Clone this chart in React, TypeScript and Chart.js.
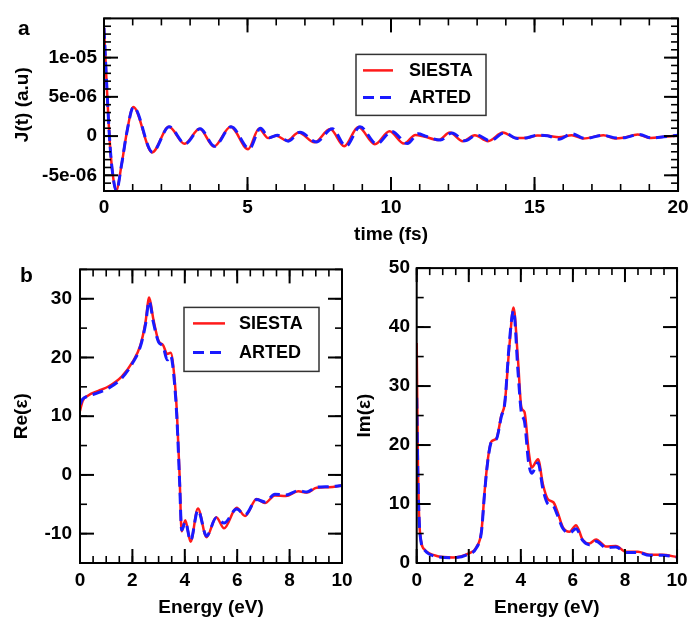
import React, { useEffect, useRef } from 'react';
import { Chart, registerables } from 'chart.js';
Chart.register(...registerables);

const FONT = "'Liberation Sans', Arial, Helvetica, sans-serif";
const RED = '#ff1a1a';
const BLUE = '#1a1aff';

// ---- Panel a: J(t) ----
const timeSiesta = [0, 0.09, 0.21, 0.32, 0.42, 0.61, 0.79, 1.02, 1.68, 2.26, 2.81, 3.33, 3.83, 4.41, 5.02, 5.40, 5.72, 6.0, 6.38, 6.78, 7.33, 7.88, 8.37, 8.86, 9.44, 9.95, 10.45, 10.85, 11.15, 11.65, 12.05, 12.5, 12.92, 13.38, 13.9, 14.35, 14.7, 15.1, 15.45, 15.85, 16.3, 16.7, 17.4, 17.8, 18.1, 18.6, 19.05, 19.5, 20];
const jSiesta = [13.8, 6.9, -1.2, -5.3, -7.0, -3.7, 0.37, 3.7, -2.08, 1.18, -0.98, 0.94, -1.34, 1.18, -1.67, 0.95, -0.25, 0.05, -0.6, 0.45, -0.8, 0.9, -1.3, 1.15, -1.05, 0.6, -0.95, 0.15, -0.05, -0.5, 0.45, -0.65, 0.1, -0.65, 0.45, -0.25, -0.25, 0.08, 0.05, -0.15, 0.12, -0.3, 0.1, -0.3, -0.2, 0.2, -0.25, -0.1, 0.05];
const timeArted = [0, 0.09, 0.21, 0.32, 0.43, 0.61, 0.79, 1.03, 1.69, 2.27, 2.83, 3.35, 3.85, 4.43, 5.06, 5.45, 5.76, 6.05, 6.42, 6.83, 7.4, 7.95, 8.43, 8.92, 9.5, 10.03, 10.57, 10.95, 11.2, 11.72, 12.12, 12.58, 12.98, 13.45, 13.95, 14.4, 14.75, 15.1, 15.45, 15.85, 16.3, 16.75, 17.4, 17.85, 18.15, 18.65, 19.1, 19.5, 20];
const jArted = [13.8, 6.9, -1.2, -5.3, -7.0, -3.7, 0.37, 3.7, -2.05, 1.2, -0.98, 0.95, -1.3, 1.2, -1.6, 1.0, -0.2, 0.1, -0.65, 0.5, -0.75, 0.95, -1.3, 1.2, -1.0, 0.6, -0.95, 0.3, 0.0, -0.5, 0.4, -0.6, 0.15, -0.6, 0.4, -0.3, -0.2, 0.1, 0.05, -0.4, 0.3, -0.3, 0.1, -0.25, -0.2, 0.2, -0.25, -0.1, 0.1];
const J_UNIT = 1e-6;
const timeTicks = [0, 5, 10, 15, 20];
const jTicks = [-5e-6, 0, 5e-6, 1e-5];
const jTickLabels = ['-5e-06', '0', '5e-06', '1e-05'];

// ---- Panel b: Re(eps) ----
const reEnergy = [0, 0.1, 0.3, 0.7, 1.1, 1.6, 2.0, 2.3, 2.5, 2.64, 2.8, 3.0, 3.17, 3.33, 3.46, 3.6, 3.7, 3.8, 3.88, 4.02, 4.22, 4.5, 4.83, 5.2, 5.5, 5.98, 6.3, 6.74, 7.06, 7.44, 7.86, 8.33, 8.66, 9.03, 9.5, 10];
const reSiesta = [10.9, 12.6, 13.5, 14.3, 15.1, 16.8, 19.2, 22.0, 26.0, 30.2, 26.5, 22.8, 22.1, 20.6, 20.8, 16.8, 10.5, 0.0, -9.6, -7.7, -11.4, -5.7, -10.6, -7.2, -9.1, -5.6, -7.0, -4.1, -4.8, -3.5, -3.6, -2.8, -3.0, -2.2, -2.1, -1.8];
const reArted = [12.0, 12.9, 13.4, 14.0, 14.8, 16.5, 19.0, 21.8, 25.6, 29.6, 26.0, 22.6, 21.9, 19.6, 20.3, 16.0, 9.5, -1.0, -9.4, -8.0, -11.2, -6.0, -10.4, -7.3, -8.2, -5.8, -6.8, -4.2, -4.6, -3.3, -3.4, -2.7, -2.9, -2.1, -2.0, -1.8];
const reTicks = [-10, 0, 10, 20, 30];

// ---- Panel b: Im(eps) ----
const imEnergy = [0, 0.05, 0.13, 0.32, 0.77, 1.4, 1.98, 2.3, 2.49, 2.61, 2.74, 2.87, 3.06, 3.25, 3.38, 3.57, 3.72, 3.89, 4.02, 4.14, 4.3, 4.42, 4.66, 4.85, 5.04, 5.25, 5.4, 5.61, 5.87, 6.12, 6.38, 6.63, 6.89, 7.27, 7.65, 8.04, 8.5, 8.93, 9.43, 10];
const imSiesta = [37.3, 16.0, 5.0, 2.2, 1.2, 0.95, 1.6, 2.7, 5.5, 12.2, 17.8, 20.6, 21.1, 25.0, 27.0, 37.3, 43.3, 34.5, 26.4, 25.6, 19.0, 16.2, 17.6, 13.3, 10.8, 10.3, 8.8, 6.1, 5.3, 6.4, 3.9, 3.3, 4.0, 2.8, 2.9, 1.9, 1.9, 1.4, 1.4, 1.0];
const imArted = [28.0, 14.0, 4.8, 2.1, 1.1, 0.9, 1.5, 2.6, 5.4, 12.0, 17.6, 20.5, 21.0, 24.8, 27.0, 38.0, 42.8, 32.5, 25.5, 24.0, 17.0, 15.2, 17.0, 12.5, 10.0, 9.6, 8.2, 5.9, 5.1, 5.8, 3.8, 3.1, 3.7, 2.6, 2.7, 1.8, 1.8, 1.3, 1.3, 1.0];
const imTicks = [0, 10, 20, 30, 40, 50];
const energyTicks = [0, 2, 4, 6, 8, 10];

const framePlugin = {
  id: 'frameTicks',
  afterDraw(chart: any, _args: any, opts: any) {
    const { ctx, chartArea: a, scales } = chart;
    const xs = scales.x, ys = scales.y;
    ctx.save();
    ctx.strokeStyle = '#000';
    const seg = (x1: number, y1: number, x2: number, y2: number) => {
      ctx.beginPath(); ctx.moveTo(x1, y1); ctx.lineTo(x2, y2); ctx.stroke();
    };
    const steps = (s: any, step: number) => {
      const out: number[] = [];
      const n = Math.round((s.max - s.min) / step);
      for (let i = 0; i <= n; i++) out.push(s.min + i * step);
      return out;
    };
    const drawX = (vals: number[], len: number) => vals.forEach((v) => {
      const p = xs.getPixelForValue(v);
      seg(p, a.bottom, p, a.bottom - len); seg(p, a.top, p, a.top + len);
    });
    const drawY = (vals: number[], len: number) => vals.forEach((v) => {
      const p = ys.getPixelForValue(v);
      seg(a.left, p, a.left + len, p); seg(a.right, p, a.right - len, p);
    });
    ctx.lineWidth = 1.6;
    drawX(steps(xs, opts.xMinor), 7);
    drawY(steps(ys, opts.yMinor), 7);
    ctx.lineWidth = 2;
    drawX(xs.ticks.map((t: any) => t.value), 14);
    drawY(ys.ticks.map((t: any) => t.value), 14);
    ctx.lineWidth = 2;
    ctx.strokeRect(a.left, a.top, a.right - a.left, a.bottom - a.top);

    if (opts.legend) {
      const L = opts.legend;
      const bx = a.left + L.x, by = a.top + L.y;
      ctx.fillStyle = '#fff';
      ctx.fillRect(bx, by, L.w, L.h);
      ctx.strokeStyle = '#333';
      ctx.lineWidth = 1.5;
      ctx.strokeRect(bx, by, L.w, L.h);
      chart.data.datasets.forEach((d: any, i: number) => {
        const ry = by + L.rows[i];
        ctx.strokeStyle = d.borderColor;
        ctx.lineWidth = d.borderWidth;
        ctx.setLineDash(d.borderDash || []);
        seg(bx + L.sx, ry, bx + L.sx + L.sl, ry);
        ctx.setLineDash([]);
        ctx.fillStyle = '#000';
        ctx.font = `bold 18px ${FONT}`;
        ctx.textAlign = 'left';
        ctx.textBaseline = 'middle';
        ctx.fillText(d.label, bx + L.tx, ry + 1);
      });
    }
    if (opts.panelLabel) {
      const P = opts.panelLabel;
      ctx.fillStyle = '#000';
      ctx.font = `bold 21px ${FONT}`;
      ctx.textAlign = 'left';
      ctx.textBaseline = 'alphabetic';
      ctx.fillText(P.text, P.x, P.y);
    }
    ctx.restore();
  },
};

type Series = { label: string; xs: number[]; ys: number[]; scale?: number; color: string; dash?: number[]; width: number; order: number };

function makeConfig(p: any) {
  const tickFont = { family: FONT, size: 19, weight: 'bold' as const };
  return {
    type: 'line',
    data: {
      datasets: p.series.map((s: Series) => ({
        label: s.label,
        data: s.xs.map((x, i) => ({ x, y: s.ys[i] * (s.scale ?? 1) })),
        borderColor: s.color,
        borderWidth: s.width,
        borderDash: s.dash,
        pointRadius: 0,
        fill: false,
        cubicInterpolationMode: 'monotone',
        order: s.order,
      })),
    },
    options: {
      responsive: false,
      animation: false,
      events: [],
      layout: { padding: p.padding },
      plugins: {
        legend: { display: false },
        tooltip: { enabled: false },
        frameTicks: { xMinor: p.xMinor, yMinor: p.yMinor, legend: p.legend, panelLabel: p.panelLabel },
      },
      scales: {
        x: {
          type: 'linear',
          min: p.xMin,
          max: p.xMax,
          grid: { display: false, drawTicks: false },
          border: { display: false },
          afterBuildTicks: (s: any) => { s.ticks = p.xTicks.map((v: number) => ({ value: v })); },
          afterFit: (s: any) => { s.height = p.xAxisHeight; },
          ticks: { padding: p.xTickPad, font: tickFont, color: '#000', autoSkip: false, maxRotation: 0, callback: (v: number) => String(v) },
          title: { display: true, text: p.xTitle, font: tickFont, color: '#000', padding: { top: 0, bottom: p.xTitlePad } },
        },
        y: {
          type: 'linear',
          min: p.yMin,
          max: p.yMax,
          grid: { display: false, drawTicks: false },
          border: { display: false },
          afterBuildTicks: (s: any) => { s.ticks = p.yTicks.map((v: number) => ({ value: v })); },
          afterFit: (s: any) => { s.width = p.yAxisWidth; },
          ticks: {
            padding: p.yTickPad, font: tickFont, color: '#000', autoSkip: false,
            callback: (v: number) => {
              const i = p.yTicks.indexOf(v);
              return p.yTickLabels && i >= 0 ? p.yTickLabels[i] : String(v);
            },
          },
          title: { display: true, text: p.yTitle, font: tickFont, color: '#000', padding: { top: p.yTitlePad, bottom: 0 } },
        },
      },
    },
    plugins: [framePlugin],
  };
}

function Panel({ cfg, left, top, width, height }: any) {
  const ref = useRef<HTMLCanvasElement>(null);
  useEffect(() => {
    const c = new Chart(ref.current as HTMLCanvasElement, makeConfig(cfg) as any);
    return () => c.destroy();
  }, []);
  return <canvas ref={ref} width={width} height={height} style={{ position: 'absolute', left, top, width, height }} />;
}

const topCfg = {
  series: [
    { label: 'SIESTA', xs: timeSiesta, ys: jSiesta, scale: J_UNIT, color: RED, width: 2.5, order: 2 },
    { label: 'ARTED', xs: timeArted, ys: jArted, scale: J_UNIT, color: BLUE, dash: [11, 6], width: 3, order: 1 },
  ],
  xMin: 0, xMax: 20, yMin: -7e-6, yMax: 1.5e-5,
  xTicks: timeTicks, yTicks: jTicks, yTickLabels: jTickLabels,
  xMinor: 1, yMinor: 1e-6,
  xTitle: 'time (fs)', yTitle: 'J(t) (a.u)',
  padding: { left: 0, right: 14, top: 11, bottom: 0 },
  yAxisWidth: 104, xAxisHeight: 59,
  xTickPad: 5.4, xTitlePad: 3.4, yTickPad: 7, yTitlePad: 11.4,
  legend: { x: 252, y: 36, w: 130, h: 61, sx: 7, sl: 30, tx: 53, rows: [16, 43] },
  panelLabel: { text: 'a', x: 18, y: 35 },
};

const reCfg = {
  series: [
    { label: 'SIESTA', xs: reEnergy, ys: reSiesta, color: RED, width: 2.5, order: 2 },
    { label: 'ARTED', xs: reEnergy, ys: reArted, color: BLUE, dash: [11, 6], width: 3, order: 1 },
  ],
  xMin: 0, xMax: 10, yMin: -15, yMax: 35,
  xTicks: energyTicks, yTicks: reTicks,
  xMinor: 0.5, yMinor: 5,
  xTitle: 'Energy (eV)', yTitle: 'Re(ε)',
  padding: { left: 0, right: 23, top: 14, bottom: 0 },
  yAxisWidth: 80, xAxisHeight: 63,
  xTickPad: 6.4, xTitlePad: 6.4, yTickPad: 8, yTitlePad: 10.4,
  legend: { x: 104, y: 38, w: 135, h: 64, sx: 9, sl: 32, tx: 55, rows: [16, 45] },
  panelLabel: { text: 'b', x: 20, y: 32 },
};

const imCfg = {
  series: [
    { label: 'SIESTA', xs: imEnergy, ys: imSiesta, color: RED, width: 2.5, order: 2 },
    { label: 'ARTED', xs: imEnergy, ys: imArted, color: BLUE, dash: [11, 6], width: 3, order: 1 },
  ],
  xMin: 0, xMax: 10, yMin: 0, yMax: 50,
  xTicks: energyTicks, yTicks: imTicks,
  xMinor: 0.5, yMinor: 5,
  xTitle: 'Energy (eV)', yTitle: 'Im(ε)',
  padding: { left: 0, right: 15.7, top: 14, bottom: 0 },
  yAxisWidth: 66.7, xAxisHeight: 63,
  xTickPad: 6.4, xTitlePad: 6.4, yTickPad: 6.7, yTitlePad: 3.4,
};

export default function App() {
  return (
    <div style={{ position: 'absolute', left: 0, top: 0, width: 694, height: 626, background: '#fff' }}>
      <Panel cfg={topCfg} left={0} top={0} width={694} height={250} />
      <Panel cfg={reCfg} left={0} top={250} width={365} height={376} />
      <Panel cfg={imCfg} left={350} top={250} width={344} height={376} />
    </div>
  );
}
